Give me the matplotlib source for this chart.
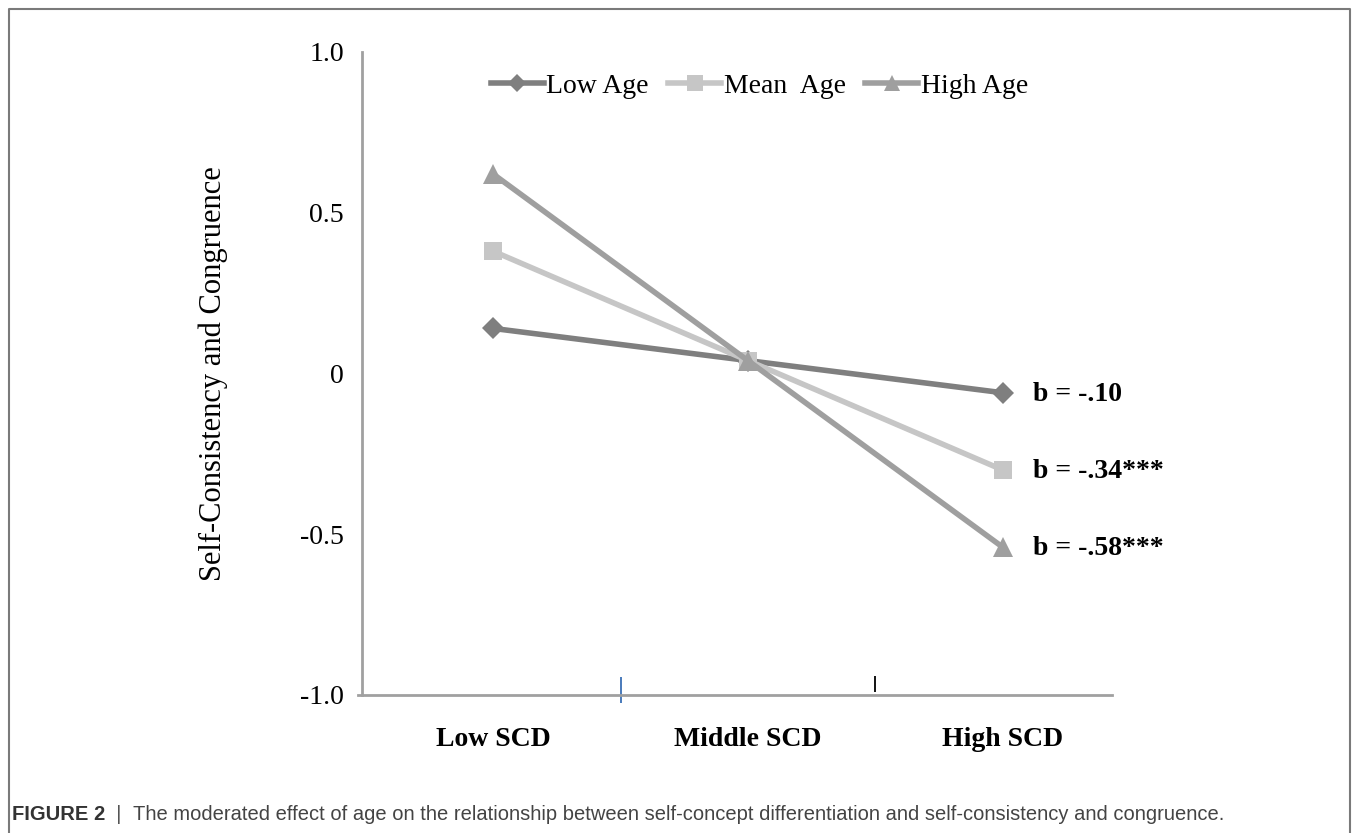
import matplotlib
matplotlib.use("Agg")
import matplotlib.pyplot as plt
from matplotlib.lines import Line2D

# ---------------------------------------------------------------------------
# Data
# ---------------------------------------------------------------------------

categories = ["Low SCD", "Middle SCD", "High SCD"]
series_names = ["Low Age", "Mean  Age", "High Age"]
low_age = [0.14, 0.04, -0.06]
mean_age = [0.38, 0.04, -0.30]
high_age = [0.62, 0.04, -0.54]
slope_labels = ["b = -.10", "b = -.34***", "b = -.58***"]
y_ticks = [-1.0, -0.5, 0.0, 0.5, 1.0]
y_tick_labels = ["-1.0", "-0.5", "0", "0.5", "1.0"]

colors = ["#7f7f7f", "#c6c6c6", "#9f9f9f"]
markers = ["D", "s", "^"]
msizes = [11, 13, 14]

caption_bold = "FIGURE 2"
caption_rest = "The moderated effect of age on the relationship between self-concept differentiation and self-consistency and congruence."

# ---------------------------------------------------------------------------
# Figure
# ---------------------------------------------------------------------------

plt.rcParams["font.family"] = ["Liberation Serif", "DejaVu Serif"]

fig = plt.figure(figsize=(13.57, 8.33), dpi=100)
ax = fig.add_axes([0.2668, 0.1657, 0.5527, 0.772])

x = list(range(len(categories)))
for vals, name, c, m, ms in zip([low_age, mean_age, high_age], series_names, colors, markers, msizes):
    ax.plot(x, vals, color=c, linewidth=4, marker=m, markersize=ms,
            markeredgewidth=0, label=name)

# slope annotations next to the High SCD points
for vals, txt in zip([low_age, mean_age, high_age], slope_labels):
    ax.annotate(txt, xy=(x[-1], vals[-1]), xytext=(22, -1), textcoords="offset points",
                ha="left", va="center", fontsize=20, fontweight="bold")

ax.set_xlim(-0.515, 2.43)
ax.set_ylim(-1.0, 1.0)

ax.set_yticks(y_ticks)
ax.set_yticklabels(y_tick_labels, fontsize=20)
ax.tick_params(axis="y", length=0, pad=13)
ax.set_yticks([1.0], minor=True)
ax.tick_params(axis="y", which="minor", length=4, width=2, color="#a0a0a0")

ax.set_xticks(x)
ax.set_xticklabels(categories, fontsize=20, fontweight="bold")
ax.tick_params(axis="x", length=0, pad=23)

# stray tick marks on the category axis
ax.vlines([0.5], -0.012, 0.028, transform=ax.get_xaxis_transform(), color="#3a6fb5",
          linewidth=1.3, clip_on=False)
ax.vlines([1.5], 0.004, 0.03, transform=ax.get_xaxis_transform(), color="black",
          linewidth=1.3, clip_on=False)

for side in ["top", "right"]:
    ax.spines[side].set_visible(False)
for side in ["left", "bottom"]:
    ax.spines[side].set_color("#a0a0a0")
    ax.spines[side].set_linewidth(2)
ax.spines["bottom"].set_bounds(-0.53, 2.43)

ax.set_ylabel("Self-Consistency and Congruence", fontsize=22, labelpad=52)

handles = [Line2D([0], [0], color=c, linewidth=4, marker=m, markersize=ms - 2,
                  markeredgewidth=0) for c, m, ms in zip(colors, markers, msizes)]
ax.legend(handles, series_names, loc="upper center", bbox_to_anchor=(0.53, 1.005),
          ncol=3, frameon=False, fontsize=20, handlelength=1.9,
          handletextpad=0.1, columnspacing=0.7)

# outer frame (left, top, right)
fig.add_artist(Line2D([0.0066, 0.0066, 0.9950, 0.9950], [0.0, 0.9892, 0.9892, 0.0],
                      transform=fig.transFigure, color="#7a7a7a", linewidth=1.5))

# caption: bold label, separator, then the sentence, each placed after the previous one
sans = ["Liberation Sans", "DejaVu Sans"]
t1 = fig.text(0.0088, 0.022, caption_bold, fontsize=14.5, fontweight="bold",
              family=sans, va="center", color="#333333")
t2 = ax.annotate("  |  ", xy=(1, 0), xycoords=t1, va="bottom", fontsize=14.5,
                 family=sans, color="#555555", annotation_clip=False)
ax.annotate(caption_rest, xy=(1, 0), xycoords=t2, va="bottom", fontsize=14.5,
            family=sans, color="#444444", annotation_clip=False)

fig.savefig("out.png", dpi=100)
